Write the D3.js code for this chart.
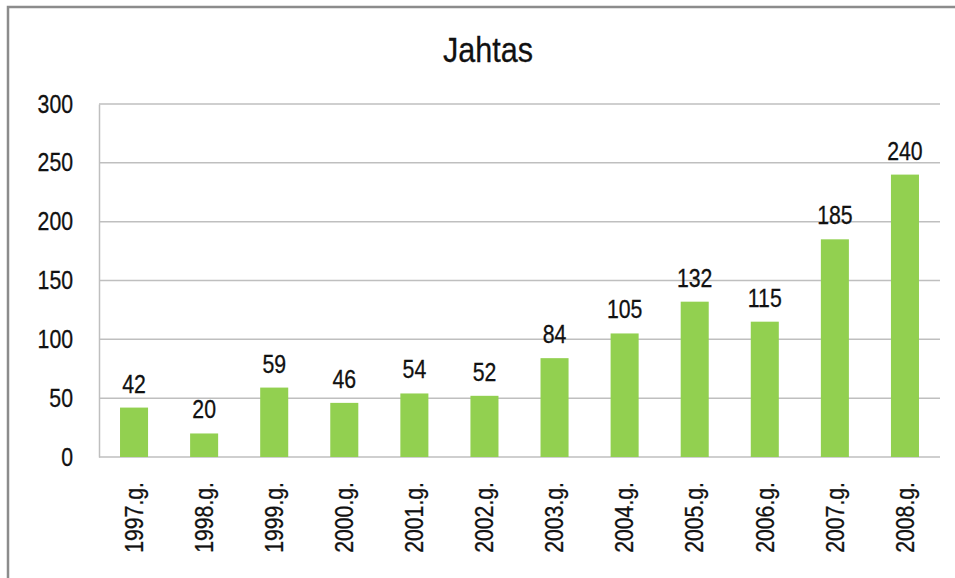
<!DOCTYPE html>
<html lang="en">
<head>
    <meta charset="UTF-8">
    <title>Jahtas</title>
    <script src="https://d3js.org/d3.v7.min.js"></script>
    <style>
        body { margin: 0; background: #fff; }
        text {
            font-family: "Liberation Sans", Arial, sans-serif;
            fill: #111;
            stroke: #111;
            stroke-width: 0.3px;
        }
    </style>
</head>
<body>
    <div id="chart"></div>

    <script>
        const years = ["1997.g.", "1998.g.", "1999.g.", "2000.g.", "2001.g.", "2002.g.",
            "2003.g.", "2004.g.", "2005.g.", "2006.g.", "2007.g.", "2008.g."];
        const counts = [42, 20, 59, 46, 54, 52, 84, 105, 132, 115, 185, 240];
        const yTicks = [0, 50, 100, 150, 200, 250, 300];

        const width = 955;
        const height = 578;
        const margin = { top: 104, right: 15, bottom: 121, left: 99 };
        const innerWidth = width - margin.left - margin.right;
        const innerHeight = height - margin.top - margin.bottom;
        // the original text looks narrow, so squeeze glyphs along the baseline
        const squeeze = 0.85;

        const data = years.map((y, i) => ({ year: y, value: counts[i] }));

        const svg = d3.select("#chart")
            .append("svg")
            .attr("width", width)
            .attr("height", height);

        // chart frame (only top and left edges show in the picture)
        svg.append("path")
            .attr("d", `M8,${height + 5}V7H${width + 5}`)
            .attr("fill", "none")
            .attr("stroke", "#8c8c8c")
            .attr("stroke-width", 2.5);

        svg.append("text")
            .attr("transform", `translate(488, 62) scale(${squeeze}, 1)`)
            .attr("text-anchor", "middle")
            .style("font-size", "36px")
            .text("Jahtas");

        const g = svg.append("g")
            .attr("transform", `translate(${margin.left}, ${margin.top})`);

        const x = d3.scaleBand()
            .domain(years)
            .range([0, innerWidth])
            .paddingInner(0.6)
            .paddingOuter(0.3);

        const y = d3.scaleLinear()
            .domain([0, 300])
            .range([innerHeight, 0]);

        // gridlines
        g.append("g")
            .selectAll("line")
            .data(yTicks)
            .join("line")
            .attr("x1", 0)
            .attr("x2", innerWidth)
            .attr("y1", d => y(d))
            .attr("y2", d => y(d))
            .attr("stroke", "#bfbfbf")
            .attr("stroke-width", 1.5);

        // y axis
        const yAxis = g.append("g")
            .call(d3.axisLeft(y).tickValues(yTicks).tickSize(0).tickPadding(26));
        yAxis.select(".domain").attr("stroke", "#bfbfbf").attr("stroke-width", 1.5);
        yAxis.selectAll("text")
            .attr("x", 0)
            .attr("transform", `translate(-26, 0) scale(${squeeze}, 1)`)
            .style("font-size", "25px")
            .attr("font-family", null)
            .attr("fill", null);

        // x axis
        const xAxis = g.append("g")
            .attr("transform", `translate(0, ${innerHeight})`)
            .call(d3.axisBottom(x).tickSize(0));
        xAxis.select(".domain").remove();
        xAxis.selectAll("text")
            .attr("transform", `rotate(-90) scale(${squeeze}, 1)`)
            .attr("text-anchor", "end")
            .attr("x", -25 / squeeze)
            .attr("y", 0)
            .attr("dy", "0.35em")
            .attr("font-family", null)
            .attr("fill", null)
            .style("font-size", "25px");

        // bars
        g.selectAll("rect.bar")
            .data(data)
            .join("rect")
            .attr("class", "bar")
            .attr("x", d => x(d.year))
            .attr("y", d => y(d.value))
            .attr("width", x.bandwidth())
            .attr("height", d => innerHeight - y(d.value))
            .attr("fill", "#92d050");

        // value labels
        g.selectAll("text.label")
            .data(data)
            .join("text")
            .attr("class", "label")
            .attr("transform", d =>
                `translate(${x(d.year) + x.bandwidth() / 2}, ${y(d.value) - 15}) scale(${squeeze}, 1)`)
            .attr("text-anchor", "middle")
            .style("font-size", "25px")
            .text(d => d.value);
    </script>
</body>
</html>
